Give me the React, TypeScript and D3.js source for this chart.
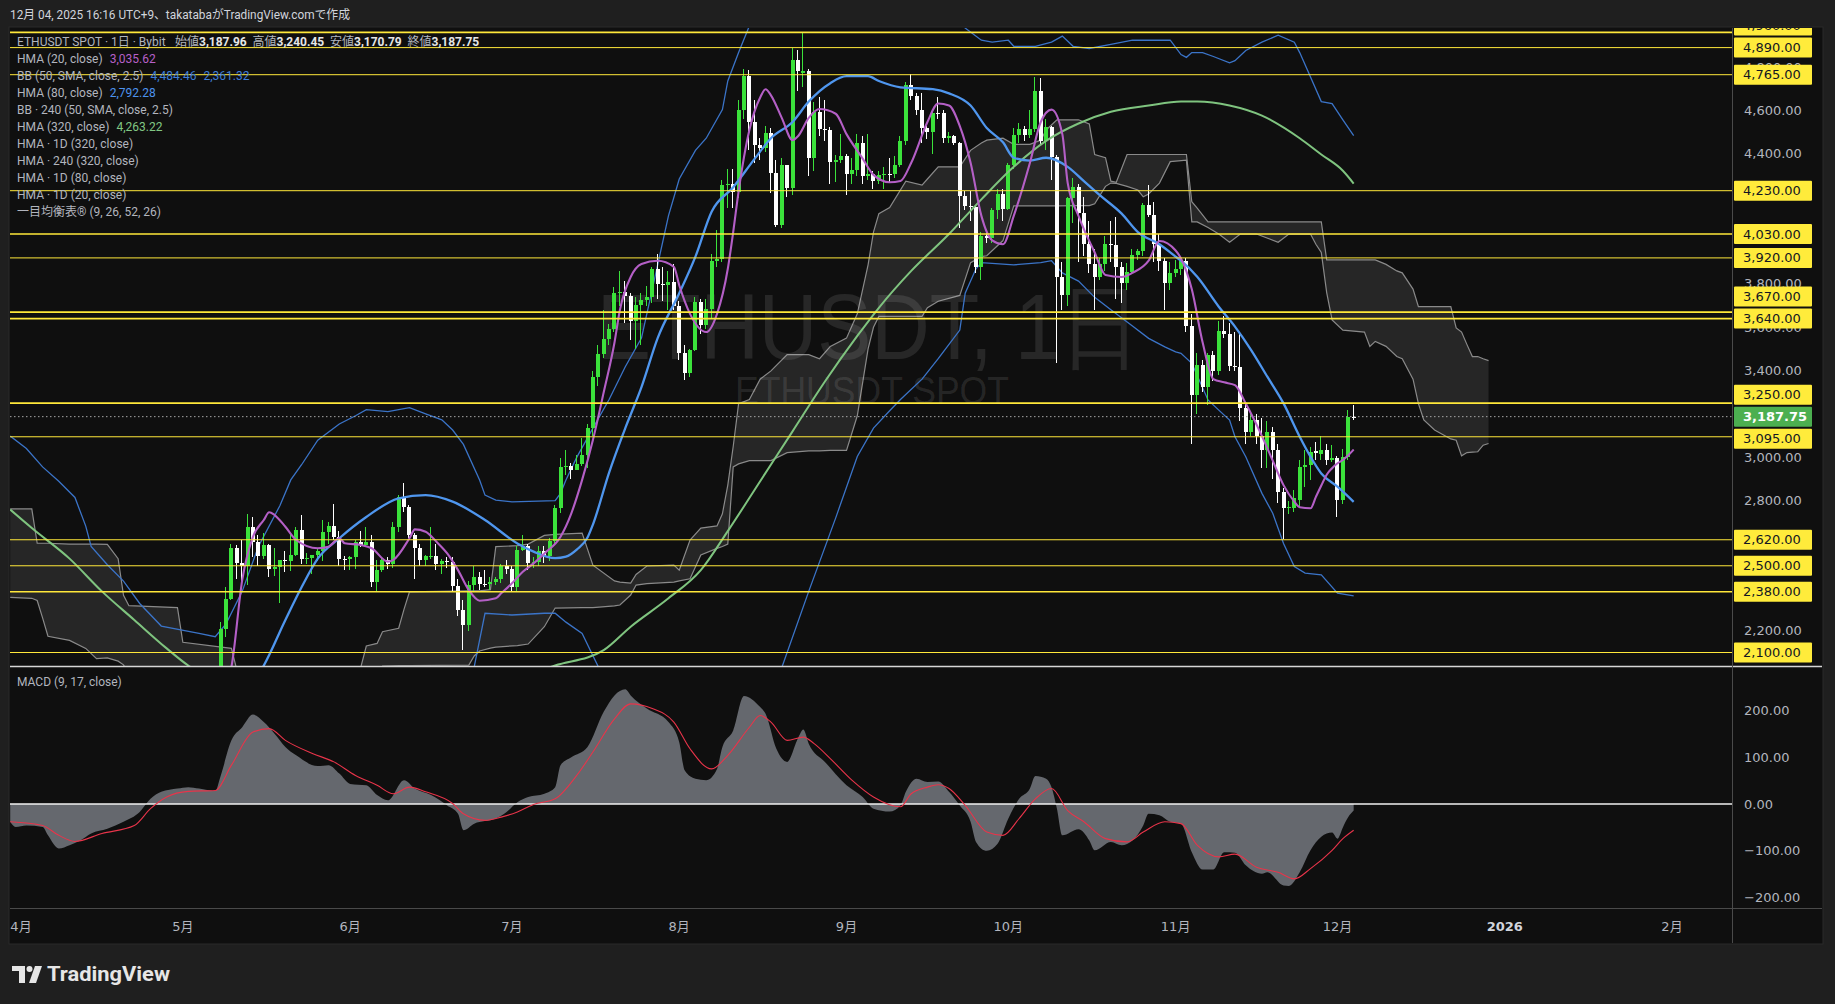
import React from 'react';
import * as d3 from 'd3';

type Ohlc = [string, number, number, number, number];
type Pt = [string, number];
type CloudPt = [string, number, number];

// daily candles: date, open, high, low, close
const candles: Ohlc[] = [
  ['2025-05-07', 1815, 1865, 1783, 1811], ['2025-05-08', 1811, 2240, 1805, 2207], ['2025-05-09', 2207, 2400, 2170, 2346],
  ['2025-05-10', 2346, 2600, 2340, 2583], ['2025-05-11', 2583, 2596, 2440, 2514], ['2025-05-12', 2514, 2620, 2420, 2497],
  ['2025-05-13', 2497, 2738, 2410, 2681], ['2025-05-14', 2681, 2725, 2540, 2610], ['2025-05-15', 2610, 2640, 2500, 2547],
  ['2025-05-16', 2547, 2650, 2530, 2594], ['2025-05-17', 2594, 2601, 2450, 2484], ['2025-05-18', 2484, 2580, 2453, 2496],
  ['2025-05-19', 2496, 2527, 2330, 2525], ['2025-05-20', 2525, 2570, 2470, 2524], ['2025-05-21', 2524, 2640, 2475, 2550],
  ['2025-05-22', 2550, 2680, 2545, 2663], ['2025-05-23', 2663, 2735, 2510, 2529], ['2025-05-24', 2529, 2560, 2510, 2535],
  ['2025-05-25', 2535, 2550, 2460, 2549], ['2025-05-26', 2549, 2580, 2520, 2566], ['2025-05-27', 2566, 2710, 2520, 2657],
  ['2025-05-28', 2657, 2700, 2600, 2682], ['2025-05-29', 2682, 2785, 2620, 2633], ['2025-05-30', 2633, 2660, 2500, 2531],
  ['2025-05-31', 2531, 2545, 2480, 2529], ['2025-06-01', 2529, 2545, 2480, 2539], ['2025-06-02', 2539, 2620, 2483, 2608],
  ['2025-06-03', 2608, 2660, 2585, 2594], ['2025-06-04', 2594, 2680, 2590, 2609], ['2025-06-05', 2609, 2640, 2400, 2423],
  ['2025-06-06', 2423, 2525, 2380, 2480], ['2025-06-07', 2480, 2535, 2470, 2526], ['2025-06-08', 2526, 2540, 2485, 2510],
  ['2025-06-09', 2510, 2700, 2490, 2680], ['2025-06-10', 2680, 2827, 2658, 2817], ['2025-06-11', 2817, 2880, 2750, 2772],
  ['2025-06-12', 2772, 2780, 2630, 2644], ['2025-06-13', 2644, 2650, 2440, 2581], ['2025-06-14', 2581, 2600, 2500, 2527],
  ['2025-06-15', 2527, 2550, 2500, 2546], ['2025-06-16', 2546, 2680, 2530, 2547], ['2025-06-17', 2547, 2600, 2480, 2509],
  ['2025-06-18', 2509, 2530, 2460, 2524], ['2025-06-19', 2524, 2540, 2490, 2517], ['2025-06-20', 2517, 2540, 2380, 2406],
  ['2025-06-21', 2406, 2440, 2270, 2296], ['2025-06-22', 2296, 2340, 2112, 2227], ['2025-06-23', 2227, 2430, 2200, 2413],
  ['2025-06-24', 2413, 2500, 2380, 2448], ['2025-06-25', 2448, 2470, 2390, 2417], ['2025-06-26', 2417, 2480, 2400, 2416],
  ['2025-06-27', 2416, 2450, 2390, 2424], ['2025-06-28', 2424, 2450, 2410, 2438], ['2025-06-29', 2438, 2510, 2420, 2500],
  ['2025-06-30', 2500, 2525, 2460, 2486], ['2025-07-01', 2486, 2500, 2380, 2404], ['2025-07-02', 2404, 2590, 2380, 2573],
  ['2025-07-03', 2573, 2640, 2570, 2593], ['2025-07-04', 2593, 2600, 2480, 2512], ['2025-07-05', 2512, 2540, 2490, 2516],
  ['2025-07-06', 2516, 2590, 2500, 2570], ['2025-07-07', 2570, 2590, 2515, 2543], ['2025-07-08', 2543, 2630, 2520, 2613],
  ['2025-07-09', 2613, 2780, 2595, 2767], ['2025-07-10', 2767, 2995, 2745, 2954], ['2025-07-11', 2954, 3035, 2920, 2961],
  ['2025-07-12', 2961, 2975, 2900, 2944], ['2025-07-13', 2944, 3010, 2940, 2970], ['2025-07-14', 2970, 3090, 2960, 3012],
  ['2025-07-15', 3012, 3155, 2950, 3136], ['2025-07-16', 3136, 3400, 3100, 3370], ['2025-07-17', 3370, 3520, 3330, 3476],
  ['2025-07-18', 3476, 3680, 3460, 3548], ['2025-07-19', 3548, 3615, 3520, 3592], ['2025-07-20', 3592, 3785, 3580, 3757],
  ['2025-07-21', 3757, 3860, 3700, 3762], ['2025-07-22', 3762, 3812, 3620, 3745], ['2025-07-23', 3745, 3760, 3540, 3628],
  ['2025-07-24', 3628, 3740, 3500, 3705], ['2025-07-25', 3705, 3760, 3520, 3725], ['2025-07-26', 3725, 3790, 3700, 3740],
  ['2025-07-27', 3740, 3880, 3710, 3867], ['2025-07-28', 3867, 3940, 3730, 3798], ['2025-07-29', 3798, 3880, 3720, 3795],
  ['2025-07-30', 3795, 3860, 3680, 3808], ['2025-07-31', 3808, 3890, 3680, 3697], ['2025-08-01', 3697, 3720, 3450, 3481],
  ['2025-08-02', 3481, 3520, 3355, 3388], ['2025-08-03', 3388, 3500, 3370, 3493], ['2025-08-04', 3493, 3740, 3490, 3716],
  ['2025-08-05', 3716, 3730, 3570, 3612], ['2025-08-06', 3612, 3730, 3590, 3683], ['2025-08-07', 3683, 3940, 3640, 3908],
  ['2025-08-08', 3908, 4050, 3880, 3916], ['2025-08-09', 3916, 4280, 3900, 4257], ['2025-08-10', 4257, 4330, 4150, 4263],
  ['2025-08-11', 4263, 4330, 4150, 4226], ['2025-08-12', 4226, 4650, 4195, 4600], ['2025-08-13', 4600, 4790, 4560, 4760],
  ['2025-08-14', 4760, 4785, 4420, 4549], ['2025-08-15', 4549, 4650, 4360, 4443], ['2025-08-16', 4443, 4475, 4370, 4425],
  ['2025-08-17', 4425, 4530, 4410, 4498], ['2025-08-18', 4498, 4520, 4220, 4313], ['2025-08-19', 4313, 4370, 4063, 4073],
  ['2025-08-20', 4073, 4380, 4060, 4347], ['2025-08-21', 4347, 4350, 4200, 4244], ['2025-08-22', 4244, 4887, 4210, 4833],
  ['2025-08-23', 4833, 4880, 4690, 4782], ['2025-08-24', 4772, 4956, 4710, 4780], ['2025-08-25', 4780, 4790, 4300, 4380],
  ['2025-08-26', 4380, 4640, 4320, 4595], ['2025-08-27', 4595, 4660, 4480, 4513], ['2025-08-28', 4513, 4650, 4460, 4509],
  ['2025-08-29', 4509, 4525, 4260, 4364], ['2025-08-30', 4364, 4395, 4270, 4371], ['2025-08-31', 4371, 4490, 4360, 4392],
  ['2025-09-01', 4392, 4400, 4210, 4309], ['2025-09-02', 4309, 4380, 4260, 4327], ['2025-09-03', 4327, 4490, 4300, 4450],
  ['2025-09-04', 4450, 4480, 4260, 4297], ['2025-09-05', 4297, 4490, 4280, 4307], ['2025-09-06', 4307, 4320, 4240, 4275],
  ['2025-09-07', 4275, 4320, 4260, 4304], ['2025-09-08', 4304, 4340, 4240, 4307], ['2025-09-09', 4307, 4380, 4270, 4305],
  ['2025-09-10', 4305, 4390, 4290, 4349], ['2025-09-11', 4349, 4480, 4340, 4460], ['2025-09-12', 4460, 4730, 4440, 4716],
  ['2025-09-13', 4716, 4770, 4650, 4666], ['2025-09-14', 4666, 4680, 4580, 4604], ['2025-09-15', 4604, 4680, 4450, 4520],
  ['2025-09-16', 4520, 4530, 4470, 4500], ['2025-09-17', 4500, 4600, 4400, 4590], ['2025-09-18', 4590, 4660, 4560, 4588],
  ['2025-09-19', 4588, 4600, 4450, 4472], ['2025-09-20', 4472, 4500, 4450, 4480], ['2025-09-21', 4480, 4485, 4440, 4450],
  ['2025-09-22', 4450, 4455, 4060, 4205], ['2025-09-23', 4205, 4230, 4140, 4160], ['2025-09-24', 4160, 4230, 4090, 4153],
  ['2025-09-25', 4153, 4160, 3850, 3876], ['2025-09-26', 3876, 4040, 3820, 4020], ['2025-09-27', 4020, 4040, 3990, 4010],
  ['2025-09-28', 4010, 4150, 3990, 4140], ['2025-09-29', 4140, 4240, 4100, 4215], ['2025-09-30', 4215, 4240, 4090, 4145],
  ['2025-10-01', 4145, 4360, 4140, 4349], ['2025-10-02', 4349, 4520, 4330, 4486], ['2025-10-03', 4486, 4540, 4450, 4513],
  ['2025-10-04', 4513, 4530, 4460, 4488], ['2025-10-05', 4488, 4600, 4475, 4515], ['2025-10-06', 4515, 4755, 4500, 4690],
  ['2025-10-07', 4690, 4750, 4440, 4460], ['2025-10-08', 4460, 4560, 4420, 4525], ['2025-10-09', 4525, 4530, 4280, 4385],
  ['2025-10-10', 4385, 4395, 3435, 3832], ['2025-10-11', 3832, 3900, 3680, 3750], ['2025-10-12', 3750, 4200, 3700, 4195],
  ['2025-10-13', 4195, 4290, 4080, 4245], ['2025-10-14', 4245, 4260, 3900, 4125], ['2025-10-15', 4125, 4200, 3930, 3985],
  ['2025-10-16', 3985, 4090, 3850, 3890], ['2025-10-17', 3890, 3960, 3680, 3830], ['2025-10-18', 3830, 3920, 3820, 3890],
  ['2025-10-19', 3890, 4020, 3860, 3985], ['2025-10-20', 3985, 4090, 3900, 3980], ['2025-10-21', 3980, 4110, 3730, 3880],
  ['2025-10-22', 3880, 3900, 3710, 3805], ['2025-10-23', 3805, 3895, 3770, 3855], ['2025-10-24', 3855, 3960, 3850, 3935],
  ['2025-10-25', 3935, 3960, 3910, 3950], ['2025-10-26', 3950, 4175, 3930, 4165], ['2025-10-27', 4165, 4255, 4110, 4118],
  ['2025-10-28', 4118, 4180, 3900, 3983], ['2025-10-29', 3983, 4030, 3860, 3907], ['2025-10-30', 3907, 3920, 3680, 3804],
  ['2025-10-31', 3804, 3900, 3770, 3851], ['2025-11-01', 3851, 3910, 3830, 3870], ['2025-11-02', 3870, 3920, 3840, 3905],
  ['2025-11-03', 3905, 3920, 3580, 3606], ['2025-11-04', 3606, 3660, 3060, 3287], ['2025-11-05', 3287, 3480, 3200, 3427],
  ['2025-11-06', 3427, 3450, 3300, 3324], ['2025-11-07', 3324, 3480, 3240, 3474], ['2025-11-08', 3474, 3490, 3350, 3400],
  ['2025-11-09', 3400, 3630, 3380, 3585], ['2025-11-10', 3585, 3650, 3550, 3570], ['2025-11-11', 3570, 3620, 3400, 3420],
  ['2025-11-12', 3420, 3580, 3400, 3415], ['2025-11-13', 3415, 3580, 3170, 3230], ['2025-11-14', 3230, 3250, 3060, 3117],
  ['2025-11-15', 3117, 3200, 3100, 3173], ['2025-11-16', 3173, 3200, 3060, 3098], ['2025-11-17', 3098, 3180, 2950, 3032],
  ['2025-11-18', 3032, 3170, 2950, 3117], ['2025-11-19', 3117, 3140, 2900, 3034], ['2025-11-20', 3034, 3060, 2790, 2842],
  ['2025-11-21', 2842, 2860, 2625, 2765], ['2025-11-22', 2765, 2800, 2740, 2772], ['2025-11-23', 2765, 2850, 2750, 2811],
  ['2025-11-24', 2803, 2990, 2770, 2957], ['2025-11-25', 2957, 3034, 2865, 2965], ['2025-11-26', 2965, 3049, 2895, 3026],
  ['2025-11-27', 3030, 3072, 2990, 3018], ['2025-11-28', 3015, 3100, 2990, 3034], ['2025-11-29', 3034, 3060, 2965, 2988],
  ['2025-11-30', 2988, 3057, 2980, 2995], ['2025-12-01', 2995, 3005, 2725, 2803], ['2025-12-02', 2803, 3040, 2785, 3003],
  ['2025-12-03', 3003, 3220, 2990, 3188], ['2025-12-04', 3187.96, 3240.45, 3170.79, 3187.75],
];

const hma20: Pt[] = [
  ['2025-05-07', 1850], ['2025-05-10', 2034], ['2025-05-12', 2434], ['2025-05-14', 2634], ['2025-05-16', 2711],
  ['2025-05-17', 2747], ['2025-05-18', 2734], ['2025-05-20', 2680], ['2025-05-22', 2619], ['2025-05-26', 2581],
  ['2025-05-28', 2588], ['2025-05-30', 2627], ['2025-05-31', 2604], ['2025-06-03', 2596], ['2025-06-05', 2581],
  ['2025-06-08', 2519], ['2025-06-09', 2527], ['2025-06-12', 2627], ['2025-06-13', 2668], ['2025-06-15', 2657],
  ['2025-06-17', 2611], ['2025-06-19', 2557], ['2025-06-21', 2480], ['2025-06-23', 2388], ['2025-06-25', 2339],
  ['2025-06-28', 2350], ['2025-06-29', 2373], ['2025-07-01', 2419], ['2025-07-03', 2472], ['2025-07-05', 2511],
  ['2025-07-07', 2557], ['2025-07-10', 2634], ['2025-07-12', 2742], ['2025-07-14', 2896], ['2025-07-16', 3080],
  ['2025-07-18', 3300], ['2025-07-20', 3530], ['2025-07-21', 3680], ['2025-07-23', 3832], ['2025-07-25', 3892],
  ['2025-07-28', 3907], ['2025-07-31', 3879], ['2025-08-01', 3794], ['2025-08-03', 3662], ['2025-08-06', 3578],
  ['2025-08-08', 3662], ['2025-08-10', 3870], ['2025-08-11', 4039], ['2025-08-12', 4227], ['2025-08-14', 4510],
  ['2025-08-16', 4660], ['2025-08-17', 4698], ['2025-08-18', 4670], ['2025-08-20', 4566], ['2025-08-22', 4463],
  ['2025-08-23', 4481], ['2025-08-25', 4566], ['2025-08-27', 4607], ['2025-08-30', 4585], ['2025-09-01', 4491],
  ['2025-09-04', 4378], ['2025-09-06', 4303], ['2025-09-09', 4269], ['2025-09-11', 4275], ['2025-09-13', 4359],
  ['2025-09-16', 4547], ['2025-09-18', 4632], ['2025-09-20', 4623], ['2025-09-22', 4528], ['2025-09-24', 4359],
  ['2025-09-26', 4114], ['2025-09-28', 4001], ['2025-09-30', 3983], ['2025-10-02', 4114], ['2025-10-05', 4359],
  ['2025-10-07', 4547], ['2025-10-09', 4604], ['2025-10-11', 4491], ['2025-10-12', 4265], ['2025-10-14', 4114],
  ['2025-10-17', 3945], ['2025-10-19', 3841], ['2025-10-22', 3832], ['2025-10-24', 3851], ['2025-10-27', 3907],
  ['2025-10-29', 3998], ['2025-11-01', 3954], ['2025-11-02', 3917], ['2025-11-04', 3775], ['2025-11-06', 3531],
  ['2025-11-08', 3361], ['2025-11-10', 3346], ['2025-11-12', 3333], ['2025-11-14', 3248], ['2025-11-17', 3098],
  ['2025-11-19', 2985], ['2025-11-21', 2872], ['2025-11-23', 2796], ['2025-11-24', 2770], ['2025-11-26', 2765],
  ['2025-11-27', 2818], ['2025-11-28', 2870], ['2025-11-29', 2920], ['2025-11-30', 2950], ['2025-12-01', 2973],
  ['2025-12-02', 2988], ['2025-12-03', 3010], ['2025-12-04', 3036],
];

const hma80: Pt[] = [
  ['2025-05-12', 1900], ['2025-05-16', 2040], ['2025-05-20', 2250], ['2025-05-23', 2401], ['2025-05-26', 2533],
  ['2025-05-30', 2627], ['2025-06-04', 2725], ['2025-06-10', 2811], ['2025-06-15', 2826], ['2025-06-20', 2796],
  ['2025-06-26', 2711], ['2025-07-02', 2603], ['2025-07-05', 2565], ['2025-07-09', 2535], ['2025-07-11', 2542],
  ['2025-07-13', 2575], ['2025-07-15', 2630], ['2025-07-16', 2690], ['2025-07-19', 2930], ['2025-07-22', 3135],
  ['2025-07-25', 3324], ['2025-07-28', 3550], ['2025-08-01', 3757], ['2025-08-04', 3926], ['2025-08-07', 4133],
  ['2025-08-11', 4246], ['2025-08-15', 4378], ['2025-08-18', 4472], ['2025-08-22', 4547], ['2025-08-25', 4641],
  ['2025-08-29', 4726], ['2025-09-01', 4758], ['2025-09-05', 4758], ['2025-09-07', 4736], ['2025-09-11', 4707],
  ['2025-09-17', 4698], ['2025-09-20', 4679], ['2025-09-24', 4623], ['2025-09-27', 4519], ['2025-09-30', 4453],
  ['2025-10-02', 4382], ['2025-10-05', 4369], ['2025-10-08', 4382], ['2025-10-12', 4340], ['2025-10-15', 4274],
  ['2025-10-18', 4208], ['2025-10-22', 4124], ['2025-10-25', 4039], ['2025-10-29', 3983], ['2025-11-01', 3926],
  ['2025-11-02', 3907], ['2025-11-05', 3833], ['2025-11-09', 3695], ['2025-11-12', 3603], ['2025-11-15', 3495],
  ['2025-11-18', 3372], ['2025-11-21', 3249], ['2025-11-24', 3095], ['2025-11-26', 3003], ['2025-11-28', 2926],
  ['2025-12-01', 2865], ['2025-12-04', 2795],
];

const hma320: Pt[] = [
  ['2025-03-30', 2759], ['2025-04-03', 2674], ['2025-04-10', 2533], ['2025-04-16', 2382], ['2025-04-22', 2250],
  ['2025-04-28', 2119], ['2025-05-02', 2040], ['2025-05-15', 1930], ['2025-06-05', 1880], ['2025-06-25', 1930],
  ['2025-07-09', 2040], ['2025-07-18', 2111], ['2025-07-23', 2219], ['2025-07-30', 2350], ['2025-08-05', 2480],
  ['2025-08-10', 2660], ['2025-08-16', 2890], ['2025-08-22', 3120], ['2025-08-28', 3350], ['2025-09-03', 3560],
  ['2025-09-07', 3690], ['2025-09-13', 3860], ['2025-09-20', 4030], ['2025-09-26', 4190], ['2025-10-02', 4340],
  ['2025-10-08', 4460], ['2025-10-14', 4540], ['2025-10-20', 4594], ['2025-10-27', 4623], ['2025-11-02', 4641],
  ['2025-11-05', 4641], ['2025-11-11', 4623], ['2025-11-17', 4576], ['2025-11-24', 4472], ['2025-11-28', 4397],
  ['2025-12-02', 4322], ['2025-12-04', 4263],
];

const bbUpper: Pt[] = [
  ['2025-03-30', 3098], ['2025-04-02', 3041], ['2025-04-05', 2956], ['2025-04-08', 2890], ['2025-04-11', 2815],
  ['2025-04-13', 2683], ['2025-04-14', 2589], ['2025-04-17', 2505], ['2025-04-20', 2429], ['2025-04-23', 2326],
  ['2025-04-27', 2222], ['2025-05-04', 2188], ['2025-05-07', 2173], ['2025-05-09', 2232], ['2025-05-12', 2382],
  ['2025-05-15', 2589], ['2025-05-19', 2778], ['2025-05-21', 2896], ['2025-05-23', 2966], ['2025-05-26', 3079],
  ['2025-05-30', 3154], ['2025-06-02', 3192], ['2025-06-04', 3220], ['2025-06-08', 3211], ['2025-06-12', 3229],
  ['2025-06-15', 3201], ['2025-06-18', 3173], ['2025-06-20', 3126], ['2025-06-22', 3060], ['2025-06-25', 2896],
  ['2025-06-26', 2826], ['2025-06-28', 2803], ['2025-07-01', 2795], ['2025-07-09', 2800], ['2025-07-10', 2834],
  ['2025-07-11', 2896], ['2025-07-13', 3000], ['2025-07-16', 3135], ['2025-07-19', 3267], ['2025-07-22', 3418],
  ['2025-07-25', 3550], ['2025-07-27', 3775], ['2025-07-30', 4114], ['2025-08-01', 4284], ['2025-08-04', 4416],
  ['2025-08-06', 4472], ['2025-08-09', 4604], ['2025-08-10', 4736], ['2025-08-12', 4867], ['2025-08-14', 4990],
  ['2025-08-25', 5150], ['2025-09-10', 5150], ['2025-09-21', 5040], ['2025-09-23', 4980], ['2025-09-26', 4924],
  ['2025-09-28', 4915], ['2025-10-01', 4924], ['2025-10-02', 4896], ['2025-10-06', 4896], ['2025-10-09', 4915],
  ['2025-10-11', 4943], ['2025-10-13', 4896], ['2025-10-16', 4886], ['2025-10-20', 4905], ['2025-10-24', 4924],
  ['2025-10-31', 4924], ['2025-11-02', 4858], ['2025-11-03', 4845], ['2025-11-04', 4867], ['2025-11-06', 4867],
  ['2025-11-08', 4849], ['2025-11-11', 4820], ['2025-11-12', 4830], ['2025-11-14', 4877], ['2025-11-17', 4915],
  ['2025-11-20', 4947], ['2025-11-23', 4915], ['2025-11-24', 4867], ['2025-11-26', 4754], ['2025-11-28', 4641],
  ['2025-11-30', 4632], ['2025-12-02', 4557], ['2025-12-04', 4484],
];

const bbLower: Pt[] = [
  ['2025-06-10', 1950], ['2025-06-20', 1990], ['2025-06-24', 2034], ['2025-06-26', 2281], ['2025-07-01', 2273],
  ['2025-07-07', 2281], ['2025-07-09', 2281], ['2025-07-11', 2240], ['2025-07-14', 2188], ['2025-07-17', 2034],
  ['2025-07-25', 1850], ['2025-08-10', 1820], ['2025-08-17', 1900], ['2025-08-20', 2030], ['2025-08-25', 2382],
  ['2025-08-30', 2721], ['2025-09-03', 3004], ['2025-09-06', 3135], ['2025-09-09', 3215], ['2025-09-11', 3267],
  ['2025-09-15', 3361], ['2025-09-18', 3455], ['2025-09-22', 3587], ['2025-09-23', 3757], ['2025-09-25', 3870],
  ['2025-09-26', 3898], ['2025-10-02', 3888], ['2025-10-07', 3898], ['2025-10-09', 3907], ['2025-10-11', 3851],
  ['2025-10-14', 3813], ['2025-10-17', 3738], ['2025-10-20', 3681], ['2025-10-24', 3606], ['2025-10-27', 3549],
  ['2025-10-30', 3510], ['2025-11-01', 3487], ['2025-11-02', 3480], ['2025-11-04', 3434], ['2025-11-07', 3265],
  ['2025-11-09', 3218], ['2025-11-11', 3172], ['2025-11-12', 3095], ['2025-11-14', 3003], ['2025-11-17', 2834],
  ['2025-11-19', 2742], ['2025-11-21', 2603], ['2025-11-23', 2496], ['2025-11-25', 2466], ['2025-11-28', 2458],
  ['2025-12-01', 2374], ['2025-12-04', 2361],
];

// ichimoku cloud edges: date, upper edge, lower edge
const cloud: CloudPt[] = [
  ['2025-03-30', 2762, 2354], ['2025-04-03', 2762, 2350], ['2025-04-04', 2604, 2340], ['2025-04-05', 2604, 2260],
  ['2025-04-06', 2604, 2175], ['2025-04-10', 2600, 2156], ['2025-04-13', 2600, 2119], ['2025-04-15', 2600, 2072],
  ['2025-04-17', 2599, 2075], ['2025-04-19', 2533, 2060], ['2025-04-20', 2364, 2043], ['2025-04-21', 2316, 2000],
  ['2025-04-30', 2307, 1980], ['2025-05-01', 2147, 1970], ['2025-05-10', 2119, 1950], ['2025-05-11', 2020, 1940],
  ['2025-05-20', 1990, 1900], ['2025-06-01', 2000, 1890], ['2025-06-03', 2034, 1900], ['2025-06-04', 2130, 1920],
  ['2025-06-06', 2142, 1990], ['2025-06-07', 2196, 2037], ['2025-06-10', 2212, 2040], ['2025-06-11', 2300, 2040],
  ['2025-06-12', 2380, 2040], ['2025-06-23', 2384, 2042], ['2025-06-24', 2384, 2084], ['2025-06-25', 2384, 2107],
  ['2025-06-27', 2390, 2120], ['2025-06-28', 2588, 2125], ['2025-07-02', 2593, 2132], ['2025-07-04', 2600, 2139],
  ['2025-07-07', 2640, 2219], ['2025-07-09', 2645, 2305], ['2025-07-14', 2651, 2307], ['2025-07-16', 2503, 2307],
  ['2025-07-20', 2430, 2315], ['2025-07-21', 2425, 2319], ['2025-07-23', 2420, 2365], ['2025-07-24', 2460, 2411],
  ['2025-07-26', 2499, 2418], ['2025-07-31', 2503, 2425], ['2025-08-01', 2480, 2430], ['2025-08-03', 2619, 2440],
  ['2025-08-05', 2674, 2550], ['2025-08-08', 2684, 2580], ['2025-08-09', 2740, 2589], ['2025-08-10', 2872, 2600],
  ['2025-08-11', 3050, 2956], ['2025-08-12', 3248, 2970], ['2025-08-14', 3267, 2985], ['2025-08-16', 3361, 2985],
  ['2025-08-18', 3399, 2985], ['2025-08-21', 3474, 3022], ['2025-08-25', 3474, 3030], ['2025-08-27', 3455, 3030],
  ['2025-08-29', 3512, 3032], ['2025-09-01', 3550, 3032], ['2025-09-03', 3662, 3192], ['2025-09-05', 3888, 3500],
  ['2025-09-06', 4039, 3600], ['2025-09-07', 4124, 3650], ['2025-09-09', 4152, 3650], ['2025-09-12', 4274, 3650],
  ['2025-09-15', 4256, 3650], ['2025-09-16', 4284, 3690], ['2025-09-18', 4340, 3720], ['2025-09-22', 4340, 3747],
  ['2025-09-24', 4416, 3898], ['2025-09-26', 4450, 3926], ['2025-09-27', 4463, 3930], ['2025-09-30', 4472, 4000],
  ['2025-10-02', 4444, 4160], ['2025-10-05', 4444, 4160], ['2025-10-07', 4463, 4160], ['2025-10-08', 4510, 4160],
  ['2025-10-10', 4557, 4160], ['2025-10-14', 4557, 4161], ['2025-10-16', 4538, 4161], ['2025-10-17', 4397, 4170],
  ['2025-10-19', 4382, 4250], ['2025-10-20', 4274, 4265], ['2025-10-21', 4269, 4264], ['2025-10-23', 4397, 4250],
  ['2025-10-25', 4397, 4233], ['2025-10-26', 4397, 4202], ['2025-10-27', 4397, 4215], ['2025-10-29', 4397, 4265],
  ['2025-10-31', 4397, 4364], ['2025-11-03', 4397, 4371], ['2025-11-04', 4179, 4086], ['2025-11-05', 4150, 4086],
  ['2025-11-07', 4086, 4060], ['2025-11-09', 4086, 4030], ['2025-11-11', 4086, 3992], ['2025-11-13', 4086, 4030],
  ['2025-11-16', 4086, 4030], ['2025-11-20', 4086, 3992], ['2025-11-22', 4086, 4030], ['2025-11-26', 4086, 4030],
  ['2025-11-27', 4086, 3983], ['2025-11-28', 4086, 3945], ['2025-11-29', 3911, 3760], ['2025-11-30', 3911, 3634],
  ['2025-12-02', 3911, 3587], ['2025-12-06', 3911, 3578], ['2025-12-07', 3911, 3512], ['2025-12-08', 3911, 3535],
  ['2025-12-10', 3890, 3512], ['2025-12-12', 3860, 3465], ['2025-12-13', 3851, 3455], ['2025-12-15', 3776, 3361],
  ['2025-12-16', 3695, 3248], ['2025-12-17', 3695, 3173], ['2025-12-19', 3695, 3126], ['2025-12-22', 3695, 3085],
  ['2025-12-23', 3597, 3079], ['2025-12-24', 3578, 3007], ['2025-12-25', 3520, 3022], ['2025-12-26', 3465, 3024],
  ['2025-12-27', 3465, 3026], ['2025-12-28', 3455, 3056], ['2025-12-29', 3446, 3064],
];

const macd: Pt[] = [
  ['2025-03-30', -38], ['2025-03-31', -49], ['2025-04-02', -46], ['2025-04-05', -49], ['2025-04-06', -67],
  ['2025-04-08', -95], ['2025-04-10', -88], ['2025-04-12', -78], ['2025-04-14', -63], ['2025-04-17', -53],
  ['2025-04-20', -38], ['2025-04-23', -17], ['2025-04-25', 11], ['2025-04-27', 26], ['2025-04-30', 33],
  ['2025-05-02', 36], ['2025-05-04', 33], ['2025-05-07', 28], ['2025-05-08', 60], ['2025-05-10', 136],
  ['2025-05-12', 164], ['2025-05-14', 191], ['2025-05-16', 175], ['2025-05-18', 150], ['2025-05-20', 122],
  ['2025-05-22', 104], ['2025-05-26', 81], ['2025-05-28', 83], ['2025-05-30', 65], ['2025-06-01', 43],
  ['2025-06-04', 40], ['2025-06-06', 19], ['2025-06-08', 8], ['2025-06-11', 51], ['2025-06-13', 33],
  ['2025-06-16', 19], ['2025-06-19', -3], ['2025-06-21', -21], ['2025-06-22', -56], ['2025-06-24', -42],
  ['2025-06-28', -31], ['2025-06-30', -17], ['2025-07-02', 4], ['2025-07-04', 15], ['2025-07-07', 22],
  ['2025-07-09', 36], ['2025-07-10', 83], ['2025-07-12', 100], ['2025-07-15', 122], ['2025-07-18', 197],
  ['2025-07-20', 232], ['2025-07-22', 245], ['2025-07-23', 232], ['2025-07-26', 204], ['2025-07-30', 175],
  ['2025-08-01', 132], ['2025-08-02', 72], ['2025-08-04', 54], ['2025-08-06', 51], ['2025-08-08', 75],
  ['2025-08-09', 122], ['2025-08-11', 157], ['2025-08-13', 231], ['2025-08-16', 207], ['2025-08-17', 193],
  ['2025-08-19', 118], ['2025-08-21', 90], ['2025-08-23', 140], ['2025-08-24', 159], ['2025-08-25', 129],
  ['2025-08-28', 90], ['2025-09-01', 40], ['2025-09-04', 15], ['2025-09-06', -10], ['2025-09-09', -16],
  ['2025-09-11', -3], ['2025-09-12', 26], ['2025-09-14', 54], ['2025-09-16', 47], ['2025-09-18', 48],
  ['2025-09-20', 26], ['2025-09-22', -3], ['2025-09-24', -38], ['2025-09-25', -81], ['2025-09-27', -100],
  ['2025-09-29', -85], ['2025-10-01', -31], ['2025-10-03', 11], ['2025-10-05', 33], ['2025-10-06', 60],
  ['2025-10-08', 54], ['2025-10-09', 36], ['2025-10-10', -10], ['2025-10-11', -67], ['2025-10-14', -54],
  ['2025-10-16', -78], ['2025-10-17', -99], ['2025-10-20', -81], ['2025-10-22', -88], ['2025-10-24', -78],
  ['2025-10-26', -46], ['2025-10-27', -21], ['2025-10-29', -24], ['2025-10-31', -38], ['2025-11-02', -42],
  ['2025-11-04', -103], ['2025-11-06', -140], ['2025-11-08', -140], ['2025-11-10', -103], ['2025-11-12', -104],
  ['2025-11-14', -131], ['2025-11-17', -149], ['2025-11-18', -146], ['2025-11-21', -174], ['2025-11-22', -175],
  ['2025-11-24', -146], ['2025-11-26', -99], ['2025-11-28', -70], ['2025-11-30', -61], ['2025-12-01', -74],
  ['2025-12-02', -50], ['2025-12-03', -28], ['2025-12-04', -14],
];

const macdSignal: Pt[] = [
  ['2025-03-30', -38], ['2025-04-05', -46], ['2025-04-08', -67], ['2025-04-11', -80], ['2025-04-16', -63],
  ['2025-04-22', -46], ['2025-04-25', -10], ['2025-04-28', 15], ['2025-05-02', 27], ['2025-05-07', 29],
  ['2025-05-10', 83], ['2025-05-14', 154], ['2025-05-17', 161], ['2025-05-20', 136], ['2025-05-25', 108],
  ['2025-05-29', 90], ['2025-06-02', 61], ['2025-06-06', 40], ['2025-06-09', 22], ['2025-06-12', 36],
  ['2025-06-15', 26], ['2025-06-20', 1], ['2025-06-22', -21], ['2025-06-26', -35], ['2025-06-29', -28],
  ['2025-07-02', -17], ['2025-07-05', -1], ['2025-07-09', 11], ['2025-07-13', 61], ['2025-07-16', 111],
  ['2025-07-20', 182], ['2025-07-23', 214], ['2025-07-27', 204], ['2025-07-31', 175], ['2025-08-03', 118],
  ['2025-08-07', 75], ['2025-08-10', 104], ['2025-08-14', 164], ['2025-08-16', 189], ['2025-08-18', 175],
  ['2025-08-21', 136], ['2025-08-24', 143], ['2025-08-26', 129], ['2025-08-29', 97], ['2025-09-02', 51],
  ['2025-09-06', 15], ['2025-09-11', -6], ['2025-09-13', 22], ['2025-09-16', 36], ['2025-09-18', 41],
  ['2025-09-20', 33], ['2025-09-23', -3], ['2025-09-27', -60], ['2025-09-30', -67], ['2025-10-03', -31],
  ['2025-10-06', 11], ['2025-10-09', 33], ['2025-10-12', -14], ['2025-10-15', -38], ['2025-10-19', -74],
  ['2025-10-23', -81], ['2025-10-26', -60], ['2025-10-30', -38], ['2025-11-02', -42], ['2025-11-05', -88],
  ['2025-11-09', -113], ['2025-11-12', -107], ['2025-11-16', -135], ['2025-11-20', -146], ['2025-11-23', -160],
  ['2025-11-26', -138], ['2025-11-30', -99], ['2025-12-02', -74], ['2025-12-04', -56],
];

const levels = [4960, 4890, 4765, 4230, 4030, 3920, 3670, 3640, 3250, 3095, 2620, 2500, 2380, 2100];
const thickLevels = [4960, 4030, 3670, 3640, 3250, 2380];
const lastPrice = 3187.75;
const priceTicks = [2200, 2400, 2600, 2800, 3000, 3200, 3400, 3600, 3800, 4000, 4200, 4400, 4600, 4800];
const macdTicks = [200, 100, 0, -100, -200];
const monthTicks: [string, string][] = [
  ['2025-04-01', '4月'], ['2025-05-01', '5月'], ['2025-06-01', '6月'], ['2025-07-01', '7月'], ['2025-08-01', '8月'],
  ['2025-09-01', '9月'], ['2025-10-01', '10月'], ['2025-11-01', '11月'], ['2025-12-01', '12月'], ['2026-01-01', '2026'],
  ['2026-02-01', '2月'],
];
const ohlcLegend: [string, string][] = [['始値', '3,187.96'], ['高値', '3,240.45'], ['安値', '3,170.79'], ['終値', '3,187.75']];
const legendRows: [string, string[]][] = [
  ['HMA (20, close)', ['3,035.62']],
  ['BB (50, SMA, close, 2.5)', ['4,484.46', '2,361.32']],
  ['HMA (80, close)', ['2,792.28']],
  ['BB · 240 (50, SMA, close, 2.5)', []],
  ['HMA (320, close)', ['4,263.22']],
  ['HMA · 1D (320, close)', []],
  ['HMA · 240 (320, close)', []],
  ['HMA · 1D (80, close)', []],
  ['HMA · 1D (20, close)', []],
  ['一目均衡表® (9, 26, 52, 26)', []],
];
const legendColors = ['#b760c9', '#3f7fd8', '#4d93ee', '', '#81c784', '', '', '', '', ''];

const FONT = "Roboto, 'Noto Sans CJK JP', sans-serif";
const AXIS_FONT = "'DejaVu Sans', 'Noto Sans CJK JP', sans-serif";
const PANE_L = 10, PANE_R = 1732, MAIN_T = 28, MAIN_B = 666, MACD_B = 908, AXIS_B = 943, FRAME_R = 1822;

const parse = (s: string) => new Date(s + 'T00:00:00Z');

export default function App() {
  const x = d3.scaleUtc().domain([parse('2025-04-01'), parse('2026-02-01')]).range([21, 1672]);
  const y = d3.scaleLinear().domain([2100, 4890]).range([652.5, 47.6]);
  const ym = d3.scaleLinear().domain([-200, 200]).range([897.6, 710.4]);
  const fmt = d3.format(',.2f');

  const smooth = (data: Pt[]) =>
    d3.line<Pt>().x(d => x(parse(d[0]))).y(d => y(d[1])).curve(d3.curveMonotoneX)(data) || '';
  const straight = (data: Pt[]) =>
    d3.line<Pt>().x(d => x(parse(d[0]))).y(d => y(d[1]))(data) || '';

  const cloudArea = d3.area<CloudPt>().x(d => x(parse(d[0]))).y0(d => y(d[2])).y1(d => y(d[1]))(cloud) || '';
  const cloudTop = straight(cloud.map(d => [d[0], d[1]] as Pt));
  const cloudBot = straight(cloud.map(d => [d[0], d[2]] as Pt));

  const macdArea = d3.area<Pt>().x(d => x(parse(d[0]))).y0(ym(0)).y1(d => ym(d[1])).curve(d3.curveMonotoneX)(macd) || '';
  const signalLine = d3.line<Pt>().x(d => x(parse(d[0]))).y(d => ym(d[1])).curve(d3.curveMonotoneX)(macdSignal) || '';

  // price scale labels, pushed apart around the fixed last-price label
  const LH = 22;
  type Lab = { v: number; y: number; last: boolean };
  const labs: Lab[] = levels.map(v => ({ v, y: y(v), last: false }));
  labs.push({ v: lastPrice, y: y(lastPrice), last: true });
  labs.sort((a, b) => a.y - b.y);
  const f = labs.findIndex(l => l.last);
  for (let i = f - 1; i >= 0; i--) if (labs[i].y > labs[i + 1].y - LH) labs[i].y = labs[i + 1].y - LH;
  for (let i = f + 1; i < labs.length; i++) if (labs[i].y < labs[i - 1].y + LH) labs[i].y = labs[i - 1].y + LH;
  // tick labels that sit right under a coloured label are dropped, like TradingView does
  const visibleTicks = priceTicks.filter(v => labs.every(l => Math.abs(l.y - y(v)) >= 7));

  const bw = 4;

  return (
    <svg width={1835} height={1004} style={{ position: 'absolute', left: 0, top: 0, background: '#1f1f1f' }}
      fontFamily={FONT}>
      <defs>
        <clipPath id="mainClip"><rect x={PANE_L} y={MAIN_T} width={PANE_R - PANE_L} height={MAIN_B - MAIN_T} /></clipPath>
        <clipPath id="macdClip"><rect x={PANE_L} y={MAIN_B + 1} width={PANE_R - PANE_L} height={MACD_B - MAIN_B - 1} /></clipPath>
        <clipPath id="axisClip"><rect x={PANE_R} y={MAIN_T} width={FRAME_R - PANE_R} height={MAIN_B - MAIN_T} /></clipPath>
      </defs>

      <rect x={0} y={0} width={1835} height={1004} fill="#1f1f1f" />
      <text x={10} y={19} fontSize={12.5} fill="#d1d4dc" textLength={340} lengthAdjust="spacingAndGlyphs">
        12月 04, 2025 16:16 UTC+9、takatabaがTradingView.comで作成
      </text>
      <rect x={PANE_L - 1} y={MAIN_T - 1} width={FRAME_R - PANE_L + 2} height={AXIS_B - MAIN_T + 2} fill="#0f0f0f" stroke="#2a2a2a" />

      {/* main pane */}
      <g clipPath="url(#mainClip)">
        <path d={cloudArea} fill="#262626" />
        <path d={cloudTop} fill="none" stroke="#8a8a8a" strokeWidth={1.2} />
        <path d={cloudBot} fill="none" stroke="#8a8a8a" strokeWidth={1.2} />

        <text x={869} y={359} textAnchor="middle" fontFamily="'Liberation Sans', sans-serif" fontSize={92}
          fill="#ffffff" fillOpacity={0.1} textLength={544} lengthAdjust="spacingAndGlyphs">ETHUSDT, 1日</text>
        <text x={872} y={404} textAnchor="middle" fontFamily="'Liberation Sans', sans-serif" fontSize={38}
          fill="#ffffff" fillOpacity={0.1} textLength={274} lengthAdjust="spacingAndGlyphs">ETHUSDT SPOT</text>

        <path d={straight(bbUpper)} fill="none" stroke="#3b74c8" strokeWidth={1.3} />
        <path d={straight(bbLower)} fill="none" stroke="#3b74c8" strokeWidth={1.3} />

        <g shapeRendering="crispEdges">
          {candles.map(([date, o, h, l, c]) => {
            const cx = Math.round(x(parse(date)));
            const up = c >= o;
            const col = up ? '#3be23b' : '#ffffff';
            const top = y(Math.max(o, c));
            const bh = Math.max(1, Math.abs(y(o) - y(c)));
            return (
              <g key={date}>
                <rect x={cx - 1} y={y(h)} width={1} height={Math.max(1, y(l) - y(h))} fill={col} />
                <rect x={cx - bw / 2 - 0.5} y={top} width={bw} height={bh} fill={col} />
              </g>
            );
          })}
        </g>

        <path d={smooth(hma320)} fill="none" stroke="#7fc47f" strokeWidth={2} />
        <path d={smooth(hma80)} fill="none" stroke="#4f96ee" strokeWidth={2.3} />
        <path d={smooth(hma20)} fill="none" stroke="#b45fc6" strokeWidth={2.1} />

        {levels.map(v => (
          <line key={v} x1={PANE_L} x2={PANE_R} y1={y(v)} y2={y(v)} stroke="#ffe83a"
            strokeWidth={thickLevels.includes(v) ? 1.6 : 1} />
        ))}
        <line x1={PANE_L} x2={PANE_R} y1={y(lastPrice)} y2={y(lastPrice)} stroke="#a6a6a6" strokeWidth={1}
          strokeDasharray="1.5 2.5" />
      </g>

      {/* legend */}
      <g fontSize={12} fill="#b2b5be">
        <text x={17} y={46}>ETHUSDT SPOT · 1日 · Bybit</text>
        {ohlcLegend.map(([k, v], i) => (
          <text key={k} x={175 + i * 77.5} y={46}>
            {k}<tspan fill="#e6e6e6" fontWeight="bold">{v}</tspan>
          </text>
        ))}
        {legendRows.map(([label, vals], i) => (
          <text key={label} x={17} y={63 + i * 17}>
            {label}
            {vals.map((v, j) => (
              <tspan key={j} dx={7} fill={legendColors[i]}>{v}</tspan>
            ))}
          </text>
        ))}
      </g>

      {/* MACD pane */}
      <g clipPath="url(#macdClip)">
        <path d={macdArea} fill="#65686e" />
        <line x1={PANE_L} x2={PANE_R} y1={ym(0)} y2={ym(0)} stroke="#f2f2f2" strokeWidth={1.5} />
        <path d={signalLine} fill="none" stroke="#e8344a" strokeWidth={1.1} />
      </g>
      <text x={17} y={686} fontSize={12} fill="#b2b5be">MACD (9, 17, close)</text>

      {/* frame lines */}
      <line x1={PANE_L} x2={FRAME_R} y1={MAIN_B + 0.5} y2={MAIN_B + 0.5} stroke="#d6d6d6" strokeWidth={1.6} />
      <line x1={PANE_L} x2={FRAME_R} y1={MACD_B + 0.5} y2={MACD_B + 0.5} stroke="#4a4a4a" strokeWidth={1} />
      <line x1={PANE_R + 0.5} x2={PANE_R + 0.5} y1={MAIN_T} y2={AXIS_B} stroke="#4a4a4a" strokeWidth={1} />

      {/* price axis */}
      <g clipPath="url(#axisClip)" fontFamily={AXIS_FONT} fontSize={13}>
        {visibleTicks.map(v => (
          <text key={v} x={1744} y={y(v) + 4.5} fill="#b2b5be">{fmt(v)}</text>
        ))}
        {labs.map(l => (
          <g key={l.v}>
            <rect x={1734} y={l.y - LH / 2 + 1} width={78} height={LH - 2} rx={1}
              fill={l.last ? '#4caf50' : '#ffeb3b'} />
            <text x={1743} y={l.y + 4.5} fill={l.last ? '#ffffff' : '#131722'} fontWeight={l.last ? 'bold' : 'normal'}>
              {fmt(l.v)}
            </text>
          </g>
        ))}
      </g>

      {/* macd axis */}
      <g fontFamily={AXIS_FONT} fontSize={13} fill="#b2b5be">
        {macdTicks.map(v => (
          <text key={v} x={1744} y={ym(v) + 4.5}>{v < 0 ? '−' + fmt(-v) : fmt(v)}</text>
        ))}
      </g>

      {/* time axis */}
      <g fontFamily={AXIS_FONT} fontSize={13} textAnchor="middle">
        {monthTicks.map(([d, t]) => (
          <text key={d} x={x(parse(d))} y={931} fontWeight={t === '2026' ? 'bold' : 'normal'}
            fill={t === '2026' ? '#d1d4dc' : '#b2b5be'}>{t}</text>
        ))}
      </g>

      {/* TradingView logo */}
      <g fill="#e6e6e6">
        <path d="M12 966 H25 V983 H19 V971 H12 Z" />
        <circle cx={29.5} cy={969} r={3} />
        <path d="M35 966 H42 L36 983 H29 Z" />
        <text x={47} y={981} fontSize={20} fontWeight="bold" textLength={123} lengthAdjust="spacingAndGlyphs">TradingView</text>
      </g>
    </svg>
  );
}
